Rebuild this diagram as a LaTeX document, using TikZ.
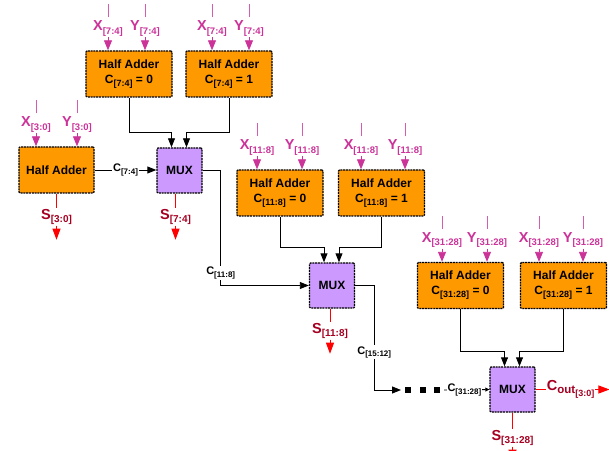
\documentclass[tikz,border=0pt]{standalone}
\usepackage{fontspec}
\setmainfont{Liberation Sans}
\usetikzlibrary{arrows.meta}
\definecolor{haorange}{HTML}{FF9900}
\definecolor{muxpurple}{HTML}{CC99FF}
\definecolor{inmagenta}{HTML}{CC3399}
\definecolor{outred}{HTML}{A50021}
\newcommand{\lo}[2][9]{\raisebox{-0.45ex}{\fontsize{#1}{#1}\selectfont#2}}

\begin{document}
\begin{tikzpicture}[x=1pt, y=1pt,
  blockbox/.style={draw=black, line width=1.4pt, dash pattern=on 2pt off 0.8pt, rounded corners=1pt, font=\fontsize{12}{15}\selectfont\bfseries, align=center, inner sep=0pt},
  habox/.style={blockbox, fill=haorange, minimum width=86pt, minimum height=46pt},
  muxbox/.style={blockbox, fill=muxpurple, minimum width=45pt, minimum height=45pt},
  inlabel/.style={text=inmagenta, font=\fontsize{14.5}{14.5}\selectfont\bfseries, inner sep=1pt},
  inwire/.style={inmagenta, line width=0.9pt, -{Triangle[length=10pt,width=8pt]}},
  intick/.style={inmagenta!80, line width=0.8pt},
  outlabel/.style={text=outred, font=\fontsize{14.5}{14.5}\selectfont\bfseries, inner sep=1pt},
  outwire/.style={red, line width=0.9pt},
  outarrow/.style={red, line width=0.9pt, -{Triangle[length=11pt,width=8pt]}},
  wire/.style={black, line width=0.9pt},
  carry/.style={wire, -{Triangle[length=9pt,width=7pt]}},
  clabel/.style={fill=white, inner sep=1pt, font=\fontsize{11}{11}\selectfont\bfseries}]
  \useasboundingbox (0,0) rectangle (609,450);

  \node[habox, minimum width=75pt] (ha30) at (56.5,280) {Half Adder};
  \node[muxbox] (mux1) at (179.5,279.5) {MUX};
  \node[habox] (ha74a) at (129,376) {Half Adder\\C\lo{[7:4]} = 0};
  \node[habox] (ha74b) at (229,376) {Half Adder\\C\lo{[7:4]} = 1};

  \node[habox] (ha118a) at (280,257) {Half Adder\\C\lo{[11:8]} = 0};
  \node[habox] (ha118b) at (381.5,257) {Half Adder\\C\lo{[11:8]} = 1};
  \node[muxbox] (mux2) at (332,164.5) {MUX};

  \node[habox] (ha3128a) at (460.5,164.5) {Half Adder\\C\lo{[31:28]} = 0};
  \node[habox] (ha3128b) at (563.5,164.5) {Half Adder\\C\lo{[31:28]} = 1};
  \node[muxbox] (mux3) at (512.5,60.5) {MUX};

  \foreach \b/\r/\xs/\ys in {ha30/3:0/-20.5/20.5, ha74a/7:4/-21/16, ha74b/7:4/-17/20,
      ha118a/11:8/-23/22, ha118b/11:8/-20.5/23.5, ha3128a/31:28/-18.5/26.5, ha3128b/31:28/-24.5/19.5} {
    \node[inlabel] (\b-x) at ([xshift=\xs, yshift=22]\b.north) {X\lo[9.5]{[\r]}};
    \node[inlabel] (\b-y) at ([xshift=\ys, yshift=22]\b.north) {Y\lo[9.5]{[\r]}};
    \draw[inwire] (\b-x.south) -- (\b-x.south |- \b.north);
    \draw[inwire] (\b-y.south) -- (\b-y.south |- \b.north);
    \draw[intick] ([yshift=2]\b-x.north) -- ++(0,13);
    \draw[intick] ([yshift=2]\b-y.north) -- ++(0,13);
  }

  \foreach \a/\b/\m in {ha74a/ha74b/mux1, ha118a/ha118b/mux2, ha3128a/ha3128b/mux3} {
    \draw[carry] (\a.south) |- ([xshift=-8, yshift=15]\m.north) -- ([xshift=-8]\m.north);
    \draw[carry] (\b.south) |- ([xshift=7, yshift=15]\m.north) -- ([xshift=7]\m.north);
  }

  \foreach \n/\dx/\r/\dy in {ha30/0/3:0/23, mux1/-4/7:4/23, mux2/-2/11:8/22, mux3/0/31:28/25} {
    \node[outlabel] (\n-s) at ([xshift=\dx, yshift=-\dy]\n.south) {S\lo[10]{[\r]}};
    \draw[outwire] ([xshift=\dx]\n.south) -- (\n-s.north);
    \draw[outarrow] (\n-s.south) -- ++(0,-14) coordinate (\n-end);
  }

  \draw[carry] (ha30.east) -- node[clabel]{C\lo[8]{[7:4]}} (ha30.east -| mux1.west);
  \draw[carry] (mux1.east) -- ++(18,0) |- node[clabel, pos=0.445]{C\lo[8]{[11:8]}} (mux2.west);

  \coordinate (dots) at (401,60);
  \draw[carry] (mux2.east) -- ++(19,0) |- node[clabel, pos=0.32]{C\lo[8]{[15:12]}} (dots);
  \foreach \x in {408,423,437}
    \fill (\x-3,57) rectangle (\x+3,63);

  \coordinate (dotsend) at (444,60);
  \draw[wire, -{Triangle[length=4pt,width=4pt]}] (dotsend) -- node[clabel, inner sep=0.5pt, pos=0.45]{C\lo[8]{[31:28]}} (mux3.west);

  \node[outlabel, anchor=west] (cout) at ([xshift=10]mux3.east) {C\lo[11.5]{out\lo[9]{[3:0]}}};
  \draw[outwire] (mux3.east) -- (cout.west);
  \draw[outarrow] (cout.east) -- ++(14,0) coordinate (coutend);
\end{tikzpicture}
\end{document}
